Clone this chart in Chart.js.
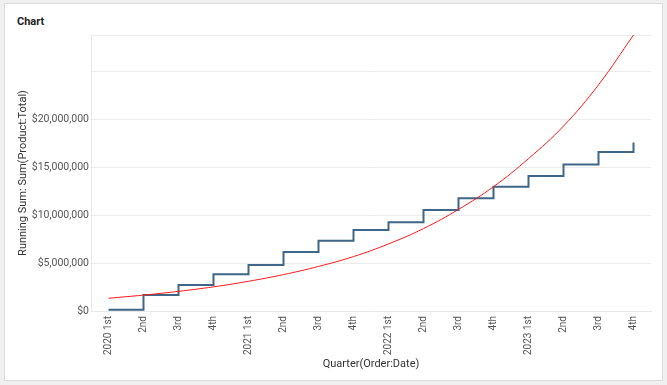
<!DOCTYPE html>
<html>
<head>
<meta charset="utf-8">
<script src="https://cdn.jsdelivr.net/npm/chart.js@4/dist/chart.umd.min.js"></script>
<style>
  html, body { margin: 0; padding: 0; background: #f0f0f0; width: 667px; height: 385px; overflow: hidden; font-family: Roboto, "Open Sans", sans-serif; }
  #card { position: absolute; left: 4px; top: 3px; width: 657px; height: 376px; background: #fff; border: 1px solid #dcdcdc; }
  #title { position: absolute; left: 17px; top: 15px; font: bold 11px Roboto, sans-serif; color: #222; }
  #wrap { position: absolute; left: 0; top: 0; width: 667px; height: 385px; }
</style>
</head>
<body>
<div id="card"></div>
<div id="title">Chart</div>
<div id="wrap"><canvas id="c" width="667" height="385"></canvas></div>
<script>
const categories = ["2020 1st","2nd","3rd","4th","2021 1st","2nd","3rd","4th","2022 1st","2nd","3rd","4th","2023 1st","2nd","3rd","4th"];
const runningSum = [120000, 1670000, 2710000, 3830000, 4800000, 6160000, 7340000, 8460000, 9260000, 10550000, 11760000, 12970000, 14100000, 15300000, 16600000, 17570000];
const trendLine = [1330000, 1660000, 2050000, 2520000, 3100000, 3800000, 4650000, 5680000, 7000000, 8600000, 10600000, 12970000, 15900000, 19300000, 23600000, 28800000];
const yTickValues = [0, 5000000, 10000000, 15000000, 20000000, 25000000, 28800000];
const yLabelledMax = 20000000;

const fmt = v => '$' + Math.round(v).toLocaleString('en-US');

new Chart(document.getElementById('c'), {
  type: 'line',
  data: {
    labels: categories,
    datasets: [
      {
        label: 'Running Sum',
        data: runningSum,
        stepped: 'before',
        borderColor: '#3f6687',
        borderWidth: 2,
        pointRadius: 0,
        fill: false,
        order: 2
      },
      {
        label: 'Trend',
        data: trendLine,
        borderColor: '#ff1a1a',
        borderWidth: 1,
        pointRadius: 0,
        tension: 0.4,
        fill: false,
        order: 1
      }
    ]
  },
  options: {
    responsive: false,
    animation: false,
    devicePixelRatio: 1,
    layout: { padding: { left: 13, right: 16, top: 35, bottom: 10 } },
    plugins: { legend: { display: false }, tooltip: { enabled: false } },
    scales: {
      x: {
        type: 'category',
        offset: true,
        grid: {
          offset: true,
          drawTicks: false,
          color: c => (c.index === 0 || c.index === categories.length) ? '#e8e8e8' : 'rgba(0,0,0,0)'
        },
        border: { display: true, color: '#e8e8e8' },
        ticks: {
          minRotation: 90, maxRotation: 90, autoSkip: false, padding: 5,
          color: '#555', font: { family: 'Roboto', size: 10 }
        },
        title: {
          display: true, text: 'Quarter(Order:Date)', color: '#333',
          font: { family: 'Roboto', size: 11 }, padding: { top: 2, bottom: 4 }
        },
        afterFit: s => { s.height = 64; }
      },
      y: {
        min: 0,
        max: yTickValues[yTickValues.length - 1],
        afterBuildTicks: s => { s.ticks = yTickValues.map(v => ({ value: v })); },
        grid: { color: '#ececec', drawTicks: false },
        border: { display: true, color: '#e8e8e8' },
        ticks: {
          padding: 2, color: '#555', font: { family: 'Roboto', size: 10.5 },
          callback: v => (v > yLabelledMax ? '' : fmt(v))
        },
        title: {
          display: true, text: 'Running Sum: Sum(Product:Total)', color: '#333',
          font: { family: 'Roboto', size: 11 }, padding: { top: 4, bottom: 2 }
        },
        afterFit: s => { s.width = 78; }
      }
    }
  }
});
</script>
</body>
</html>
